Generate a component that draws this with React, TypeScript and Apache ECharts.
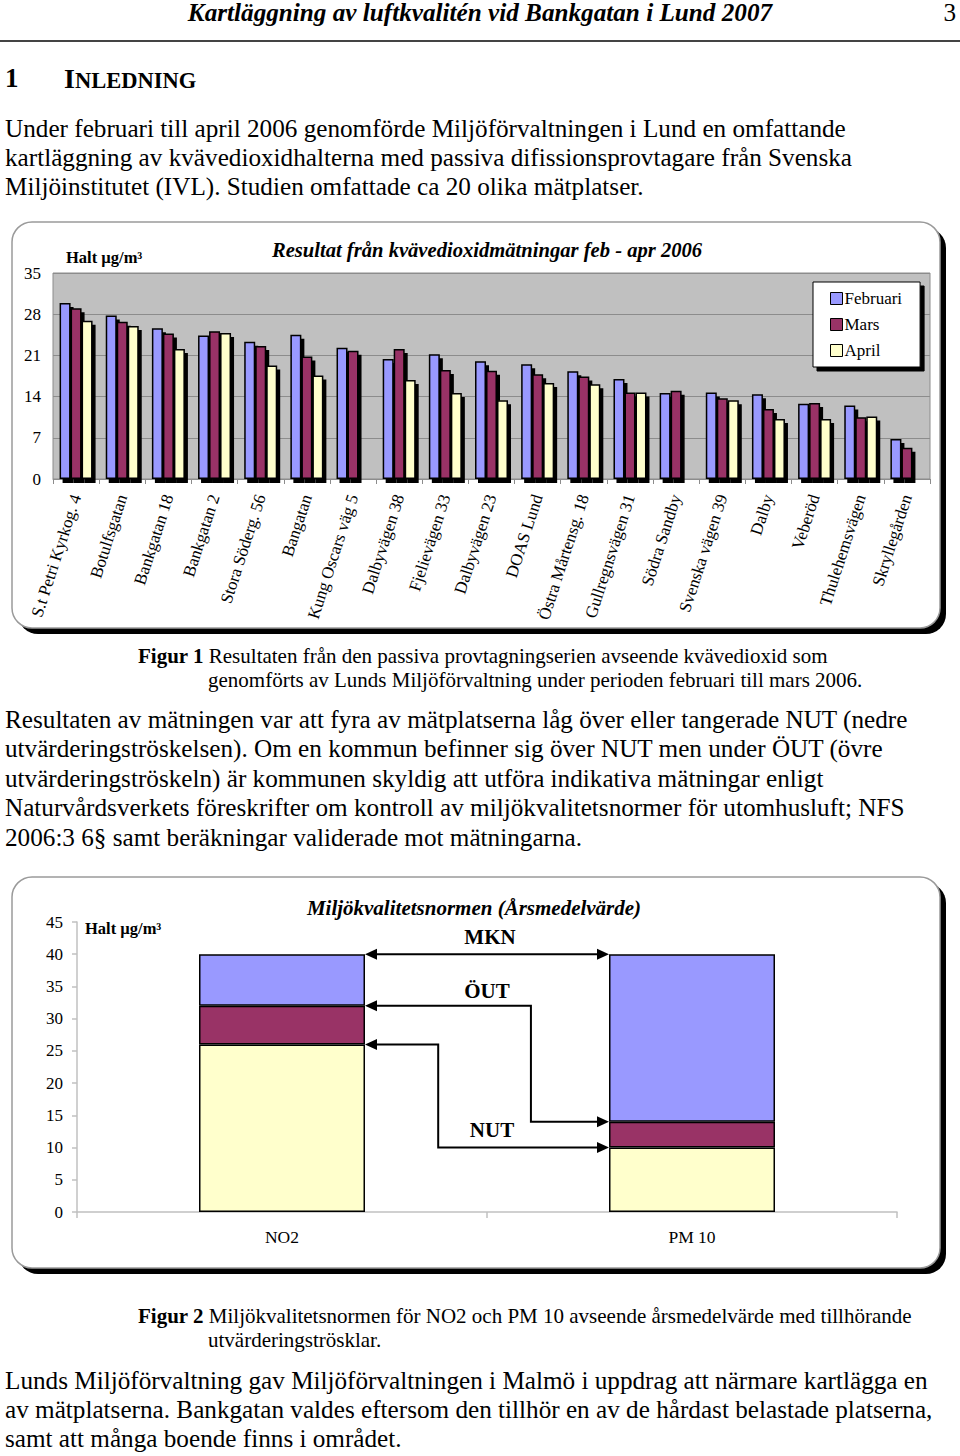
import React, { useEffect, useRef } from 'react';
import * as echarts from 'echarts';

const SERIF = '"Liberation Serif", "Times New Roman", serif';

// ---------- Figure 1 data ----------
const sites = [
  'S.t Petri Kyrkog. 4', 'Botulfsgatan', 'Bankgatan 18', 'Bankgatan 2', 'Stora Söderg. 56',
  'Bangatan', 'Kung Oscars väg 5', 'Dalbyvägen 38', 'Fjelievägen 33', 'Dalbyvägen 23',
  'DOAS Lund', 'Östra Mårtensg. 18', 'Gullregnsvägen 31', 'Södra Sandby', 'Svenska vägen 39',
  'Dalby', 'Veberöd', 'Thulehemsvägen', 'Skryllegården',
];
const februari = [29.9, 27.8, 25.6, 24.4, 23.3, 24.5, 22.3, 20.4, 21.2, 20.0, 19.5, 18.3, 17.0, 14.6, 14.7, 14.4, 12.8, 12.5, 6.8];
const mars = [29.0, 26.7, 24.7, 25.1, 22.6, 20.8, 21.8, 22.1, 18.5, 18.4, 17.8, 17.4, 14.7, 15.0, 13.7, 11.9, 12.9, 10.5, 5.3];
const april = [26.9, 26.0, 22.1, 24.8, 19.3, 17.6, null, 16.8, 14.6, 13.4, 16.3, 16.1, 14.7, null, 13.4, 10.2, 10.2, 10.6, null];
const monthNames = ['Februari', 'Mars', 'April'];
const yMax1 = 35;
const yStep1 = 7;

// ---------- Figure 2 data ----------
const limitCats = ['NO2', 'PM 10'];
const nutValues = [26, 10];
const outValues = [32, 14];
const mknValues = [40, 40];
const yMax2 = 45;
const yStep2 = 5;

const COLORS = ['#9999FF', '#993366', '#FFFFCC'];

function Line(props: { x?: number; cy: number; size: number; children: any; style?: any; width?: number; align?: string; tight?: boolean }) {
  const { x = 0, cy, size, children, style, width, align, tight } = props;
  const L = tight ? size : size * 1.25;
  const top = tight ? cy - 0.8375 * size + 0.33 * size : cy - 0.6325 * size;
  return (
    <div
      style={{
        position: 'absolute',
        left: x,
        top: Math.max(0, top),
        width: width,
        textAlign: (align as any) || 'left',
        fontFamily: SERIF,
        fontSize: size,
        lineHeight: L + 'px',
        whiteSpace: 'nowrap',
        color: '#000',
        ...style,
      }}
    >
      {children}
    </div>
  );
}

function frame(x: number, y: number, w: number, h: number) {
  return [
    { type: 'rect', id: 'fs', z: -20, silent: true, shape: { x: x + 6, y: y + 6, width: w, height: h, r: 20 }, style: { fill: '#000' } },
    { type: 'rect', id: 'ff', z: -19, silent: true, shape: { x, y, width: w, height: h, r: 20 }, style: { fill: '#fff', stroke: '#9a9a9a', lineWidth: 1.5 } },
  ];
}

function Chart1() {
  const ref = useRef<HTMLDivElement>(null);
  useEffect(() => {
    const chart = echarts.init(ref.current!, null, { renderer: 'svg' });
    const seriesData = [februari, mars, april];
    chart.setOption({
      animation: false,
      grid: { left: 53, right: 30, top: 73, bottom: 166, show: true, backgroundColor: '#C0C0C0', borderColor: '#8c8c8c', borderWidth: 1 },
      legend: {
        data: monthNames,
        orient: 'vertical',
        left: 813,
        top: 82,
        itemWidth: 12,
        itemHeight: 12,
        itemGap: 9,
        icon: 'rect',
        backgroundColor: '#fff',
        borderColor: '#000',
        borderWidth: 1,
        padding: [8, 18, 8, 17],
        shadowColor: '#000',
        shadowOffsetX: 4,
        shadowOffsetY: 4,
        shadowBlur: 0,
        itemStyle: { borderColor: '#000', borderWidth: 1, shadowBlur: 0, shadowOffsetX: 0, shadowOffsetY: 0, shadowColor: 'transparent' },
        textStyle: { fontFamily: SERIF, fontSize: 17, color: '#000', padding: [0, 0, 0, -3] },
      },
      xAxis: {
        type: 'category',
        data: sites,
        axisLine: { show: true, lineStyle: { color: '#8c8c8c', width: 1 } },
        axisTick: { show: true, length: 5, alignWithLabel: false, lineStyle: { color: '#8c8c8c' } },
        axisLabel: { interval: 0, rotate: 72, margin: 16, fontFamily: SERIF, fontSize: 17, color: '#000' },
      },
      yAxis: {
        type: 'value',
        min: 0,
        max: yMax1,
        interval: yStep1,
        axisLine: { show: false },
        axisTick: { show: false },
        splitLine: { show: true, lineStyle: { color: '#8c8c8c', width: 1 } },
        axisLabel: { margin: 12, fontFamily: SERIF, fontSize: 17, color: '#000' },
      },
      series: monthNames.map((n, i) => ({
        name: n,
        type: 'bar',
        data: seriesData[i],
        barWidth: 11,
        barGap: '0%',
        itemStyle: {
          color: COLORS[i],
          borderColor: '#000',
          borderWidth: 1.5,
          shadowColor: '#000',
          shadowOffsetX: 3,
          shadowOffsetY: 4,
          shadowBlur: 0,
        },
      })),
      graphic: [
        ...frame(12, 22, 928, 406),
        { type: 'text', z: 5, style: { text: 'Resultat från kvävedioxidmätningar feb - apr 2006', x: 487, y: 50, textAlign: 'center', textVerticalAlign: 'middle', fontFamily: SERIF, fontSize: 20.6, fontWeight: 'bold', fontStyle: 'italic', fill: '#000' } },
        { type: 'text', z: 5, style: { text: 'Halt µg/m³', x: 66, y: 57, textAlign: 'left', textVerticalAlign: 'middle', fontFamily: SERIF, fontSize: 16.5, fontWeight: 'bold', fill: '#000' } },
      ],
    });
    return () => chart.dispose();
  }, []);
  return <div ref={ref} style={{ position: 'absolute', left: 0, top: 200, width: 960, height: 445 }} />;
}

function Chart2() {
  const ref = useRef<HTMLDivElement>(null);
  useEffect(() => {
    const chart = echarts.init(ref.current!, null, { renderer: 'svg' });
    const BW = 166;
    const band1 = nutValues;
    const band2 = outValues.map((v, i) => v - nutValues[i]);
    const band3 = mknValues.map((v, i) => v - outValues[i]);
    const bands = [band3, band2, band1];
    const bandColors = [COLORS[0], COLORS[1], COLORS[2]];
    chart.setOption({
      animation: false,
      grid: { left: 77, right: 63, top: 62, bottom: 78 },
      xAxis: {
        type: 'category',
        data: limitCats,
        axisLine: { show: true, lineStyle: { color: '#c0c0c0', width: 1.5 } },
        axisTick: { show: true, length: 6, lineStyle: { color: '#c0c0c0', width: 1.5 } },
        axisLabel: { margin: 16, fontFamily: SERIF, fontSize: 17.5, color: '#000' },
      },
      yAxis: {
        type: 'value',
        min: 0,
        max: yMax2,
        interval: yStep2,
        axisLine: { show: true, lineStyle: { color: '#c0c0c0', width: 1.5 } },
        axisTick: { show: true, length: 5, lineStyle: { color: '#c0c0c0', width: 1.5 } },
        splitLine: { show: false },
        axisLabel: { margin: 14, fontFamily: SERIF, fontSize: 17, color: '#000' },
      },
      series: [2, 1, 0].map((k) => ({
        type: 'bar',
        stack: 'limits',
        data: bands[k],
        barWidth: BW,
        itemStyle: { color: bandColors[k], borderColor: '#000', borderWidth: 1.5 },
      })),
    });
    const p = (i: number, v: number) => chart.convertToPixel({ seriesIndex: 0 }, [i, v]) as number[];
    const xa = p(0, 0)[0] + BW / 2;
    const xb = p(1, 0)[0] - BW / 2;
    const gap = xb - xa;
    const arrow = (x: number, y: number, dir: number) => ({
      type: 'polygon', z: 10, silent: true,
      shape: { points: [[x, y], [x - dir * 12, y - 5.5], [x - dir * 12, y + 5.5]] },
      style: { fill: '#000' },
    });
    const connector = (v0: number, v1: number, frac: number | null) => {
      const y0 = p(0, v0)[1];
      const y1 = p(1, v1)[1];
      const pts = frac === null ? [[xa + 8, y0], [xb - 8, y1]] : [[xa + 8, y0], [xa + gap * frac, y0], [xa + gap * frac, y1], [xb - 8, y1]];
      return [
        { type: 'polyline', z: 10, silent: true, shape: { points: pts }, style: { stroke: '#000', lineWidth: 2, fill: null } },
        arrow(xa, y0, -1),
        arrow(xb, y1, 1),
      ];
    };
    const txt = (text: string, x: number, y: number, italic: boolean) => ({
      type: 'text', z: 10, silent: true,
      style: { text, x, y, textAlign: 'center', textVerticalAlign: 'middle', fontFamily: SERIF, fontSize: 21, fontWeight: 'bold', fontStyle: italic ? 'italic' : 'normal', fill: '#000' },
    });
    chart.setOption({
      graphic: [
        ...frame(12, 17, 928, 391),
        ...connector(mknValues[0], mknValues[1], null),
        ...connector(outValues[0], outValues[1], 0.68),
        ...connector(nutValues[0], nutValues[1], 0.3),
        txt('Miljökvalitetsnormen (Årsmedelvärde)', 474, 48, true),
        txt('MKN', 490, 77, false),
        txt('ÖUT', 487, 131, false),
        txt('NUT', 492, 270, false),
        { type: 'text', z: 10, silent: true, style: { text: 'Halt µg/m³', x: 85, y: 68, textAlign: 'left', textVerticalAlign: 'middle', fontFamily: SERIF, fontSize: 16.5, fontWeight: 'bold', fill: '#000' } },
      ],
    });
    return () => chart.dispose();
  }, []);
  return <div ref={ref} style={{ position: 'absolute', left: 0, top: 860, width: 960, height: 430 }} />;
}

export default function App() {
  const B = 25.2;
  const C = 21;
  return (
    <div style={{ position: 'absolute', left: 0, top: 0, width: 960, height: 1456, background: '#fff', overflow: 'hidden' }}>
      <Line cy={13} size={25.2} tight width={960} align="center" style={{ fontWeight: 'bold', fontStyle: 'italic' }}>
        Kartläggning av luftkvalitén vid Bankgatan i Lund 2007
      </Line>
      <Line cy={13} size={25.2} tight x={0} width={956} align="right">3</Line>
      <div style={{ position: 'absolute', left: 0, top: 40, width: 960, height: 2, background: '#444' }} />
      <Line cy={79} size={27} x={5} style={{ fontWeight: 'bold' }}>1</Line>
      <Line cy={79} size={28} x={64} style={{ fontWeight: 'bold' }}>
        I<span style={{ fontSize: 22.5 }}>NLEDNING</span>
      </Line>

      <Line cy={129} size={B} x={5}>Under februari till april 2006 genomförde Miljöförvaltningen i Lund en omfattande</Line>
      <Line cy={158} size={B} x={5}>kartläggning av kvävedioxidhalterna med passiva difissionsprovtagare från Svenska</Line>
      <Line cy={187} size={B} x={5}>Miljöinstitutet (IVL). Studien omfattade ca 20 olika mätplatser.</Line>

      <Chart1 />

      <Line cy={656} size={C} x={138}><b>Figur 1</b> Resultaten från den passiva provtagningserien avseende kvävedioxid som</Line>
      <Line cy={680} size={C} x={208}>genomförts av Lunds Miljöförvaltning under perioden februari till mars 2006.</Line>

      <Line cy={720} size={B} x={5}>Resultaten av mätningen var att fyra av mätplatserna låg över eller tangerade NUT (nedre</Line>
      <Line cy={749} size={B} x={5}>utvärderingströskelsen). Om en kommun befinner sig över NUT men under ÖUT (övre</Line>
      <Line cy={779} size={B} x={5}>utvärderingströskeln) är kommunen skyldig att utföra indikativa mätningar enligt</Line>
      <Line cy={808} size={B} x={5}>Naturvårdsverkets föreskrifter om kontroll av miljökvalitetsnormer för utomhusluft; NFS</Line>
      <Line cy={838} size={B} x={5}>2006:3 6§ samt beräkningar validerade mot mätningarna.</Line>

      <Chart2 />

      <Line cy={1316} size={C} x={138}><b>Figur 2</b> Miljökvalitetsnormen för NO2 och PM 10 avseende årsmedelvärde med tillhörande</Line>
      <Line cy={1340} size={C} x={208}>utvärderingströsklar.</Line>

      <Line cy={1381} size={B} x={5}>Lunds Miljöförvaltning gav Miljöförvaltningen i Malmö i uppdrag att närmare kartlägga en</Line>
      <Line cy={1410} size={B} x={5}>av mätplatserna. Bankgatan valdes eftersom den tillhör en av de hårdast belastade platserna,</Line>
      <Line cy={1439} size={B} x={5}>samt att många boende finns i området.</Line>
    </div>
  );
}
